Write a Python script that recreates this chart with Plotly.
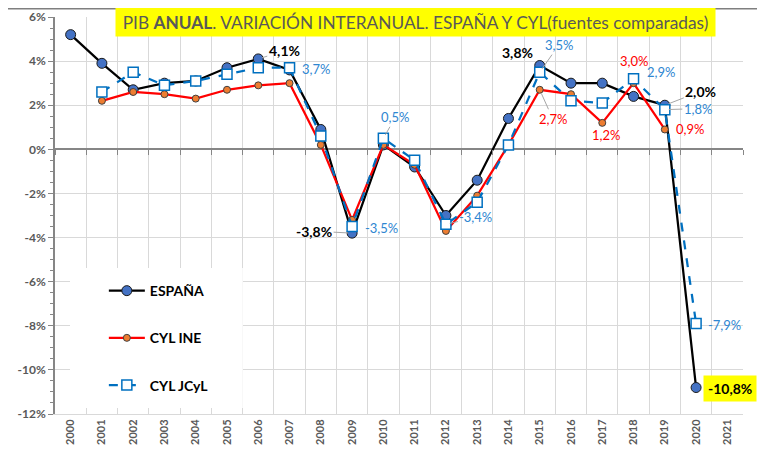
import plotly.graph_objects as go

# ---------------- data ----------------
years = [str(y) for y in range(2000, 2022)]
espana = [5.2, 3.9, 2.7, 3.0, 3.1, 3.7, 4.1, 3.6, 0.9, -3.8, 0.2, -0.8, -3.0, -1.4, 1.4, 3.8, 3.0, 3.0, 2.4, 2.0, -10.8, None]
cyl_ine = [None, 2.2, 2.6, 2.5, 2.3, 2.7, 2.9, 3.0, 0.2, -3.2, 0.2, -0.7, -3.7, -2.1, 0.2, 2.7, 2.5, 1.2, 3.0, 0.9, None, None]
cyl_jcyl = [None, 2.6, 3.5, 2.9, 3.1, 3.4, 3.7, 3.7, 0.6, -3.5, 0.5, -0.5, -3.4, -2.4, 0.2, 3.5, 2.2, 2.1, 3.2, 1.8, -7.9, None]

series_names = ["ESPAÑA", "CYL INE", "CYL JCyL"]
ytick_vals = [-12, -10, -8, -6, -4, -2, 0, 2, 4, 6]
ytick_labels = ["-12%", "-10%", "-8%", "-6%", "-4%", "-2%", "0%", "2%", "4%", "6%"]
title_text = "PIB <b>ANUAL</b>. VARIACIÓN INTERANUAL. ESPAÑA Y CYL(fuentes comparadas)"

# labels: (series, year, text)
label_series = ["esp", "esp", "esp", "esp", "esp",
                "jcyl", "jcyl", "jcyl", "jcyl", "jcyl", "jcyl", "jcyl", "jcyl",
                "ine", "ine", "ine", "ine"]
label_years = ["2006", "2009", "2015", "2019", "2020",
               "2007", "2009", "2010", "2012", "2015", "2018", "2019", "2020",
               "2015", "2017", "2018", "2019"]
label_texts = ["4,1%", "-3,8%", "3,8%", "2,0%", "-10,8%",
               "3,7%", "-3,5%", "0,5%", "-3,4%", "3,5%", "2,9%", "1,8%", "-7,9%",
               "2,7%", "1,2%", "3,0%", "0,9%"]

# ---------------- styles ----------------
FONT = "Lato, 'Open Sans', sans-serif"
GRAY = "#595959"
AXIS = "#868686"
GRID = "#D9D9D9"
BLUE_LBL = "#2E86D1"
RED = "#FF0000"

# offsets (px) and arrow flags for each label
label_dx = [26, -38, -22, 36, 34, 26, 29, 12, 30, 19, 27, 33, 28, 13, 4, 0, 25]
label_dy = [-8, -2, -13, -14, 1, 1, 1, -21, -7, -27, -7, -1, 1, 29, 12, -22, 0]
label_arrow = [True, True, False, True, False, False, False, True, True, True, False, True, False, True, False, False, False]

fig = go.Figure()

fig.add_trace(go.Scatter(
    x=years, y=espana, name=series_names[0], mode="lines+markers",
    line=dict(color="#000000", width=2.25),
    marker=dict(symbol="circle", size=10, color="#4472C4", line=dict(color="#1a1a1a", width=1)),
    legendgroup="a", hoverinfo="skip"))
fig.add_trace(go.Scatter(
    x=years, y=cyl_ine, name=series_names[1], mode="lines+markers",
    line=dict(color=RED, width=2.25),
    marker=dict(symbol="circle", size=7, color="#ED7D31", line=dict(color="#404040", width=1)),
    legendgroup="b", hoverinfo="skip"))
fig.add_trace(go.Scatter(
    x=years, y=cyl_jcyl, name=series_names[2], mode="lines+markers",
    line=dict(color="#0070C0", width=2.25, dash="dash"),
    marker=dict(symbol="square", size=10, color="#FFFFFF", line=dict(color="#0070C0", width=1.5)),
    legendgroup="c", hoverinfo="skip"))
# invisible trace carrying the zero-line tick axis
fig.add_trace(go.Scatter(x=years, y=[None] * len(years), xaxis="x2", yaxis="y",
                         showlegend=False, hoverinfo="skip", mode="lines"))

data_map = {"esp": espana, "ine": cyl_ine, "jcyl": cyl_jcyl}
style_map = {"esp": dict(color="#000000", size=14, weight="bold"),
             "ine": dict(color=RED, size=13),
             "jcyl": dict(color=BLUE_LBL, size=13)}

for s, yr, txt, dx, dy, arr in zip(label_series, label_years, label_texts, label_dx, label_dy, label_arrow):
    idx = years.index(yr)
    val = data_map[s][idx]
    f = dict(family=FONT, **style_map[s])
    ann = dict(x=idx, y=val, xref="x", yref="y", text=txt, font=f)
    if txt == "-10,8%":
        ann.update(bgcolor="#FFFF00", borderpad=4)
    if arr:
        ann.update(showarrow=True, ax=dx, ay=dy, axref="pixel", ayref="pixel",
                   arrowhead=0, arrowwidth=1, arrowcolor="#A6A6A6", standoff=4)
    else:
        ann.update(showarrow=False, xshift=dx, yshift=-dy)
    fig.add_annotation(**ann)

# title box
fig.add_annotation(
    x=0.524, y=0.9874, xref="paper", yref="paper", xanchor="center", yanchor="middle",
    text=title_text, showarrow=False, bgcolor="#FFFF00", width=597, height=26, borderpad=1,
    font=dict(family=FONT, size=17.3, color=GRAY))

# legend white box
fig.add_shape(type="rect", xref="paper", yref="paper", x0=0.0218, x1=0.273, y0=0.0151, y1=0.368,
              fillcolor="#FFFFFF", line=dict(width=0), layer="above")
# top border line of chart area
fig.add_shape(type="line", xref="paper", yref="paper", x0=-0.1, x1=1.1, y0=1.0208, y1=1.0208,
              line=dict(color="#7F7F7F", width=1.5))

fig.update_layout(
    template="none",
    width=757, height=450,
    margin=dict(l=47, r=22, t=9, b=44, autoexpand=False),
    paper_bgcolor="#FFFFFF", plot_bgcolor="#FFFFFF",
    showlegend=True,
    legend=dict(x=0.071, y=0.350, xanchor="left", yanchor="top", bgcolor="rgba(0,0,0,0)",
                font=dict(family=FONT, size=14, color="#000000", weight="bold"),
                tracegroupgap=26, itemwidth=36, traceorder="grouped"),
    xaxis=dict(type="category", categoryorder="array", categoryarray=years, range=[-0.5, 21.5],
               tickson="boundaries", showgrid=True, gridcolor=GRID, gridwidth=1,
               ticks="", tickangle=-90, automargin=False,
               tickfont=dict(family=FONT, size=11, color=GRAY, weight="bold"),
               showline=True, linecolor=GRID, linewidth=1, zeroline=False),
    xaxis2=dict(type="category", categoryorder="array", categoryarray=years, range=[-0.5, 21.5],
                overlaying="x", anchor="free", position=12 / 18, side="bottom",
                tickson="boundaries", ticks="outside", ticklen=5, tickcolor=AXIS, tickwidth=1,
                showticklabels=False, showgrid=False, showline=False, zeroline=False),
    yaxis=dict(range=[-12, 6], tickvals=ytick_vals, ticktext=ytick_labels,
               showgrid=True, gridcolor=GRID, gridwidth=1,
               zeroline=True, zerolinecolor=AXIS, zerolinewidth=1.5,
               showline=True, linecolor=AXIS, linewidth=1.5,
               ticks="outside", ticklen=5, tickcolor=AXIS, tickwidth=1,
               minor=dict(dtick=0.5, ticks="outside", ticklen=3, tickcolor=AXIS, showgrid=False),
               automargin=False,
               tickfont=dict(family=FONT, size=12, color=GRAY, weight="bold")),
)

fig.write_html("out.html")
